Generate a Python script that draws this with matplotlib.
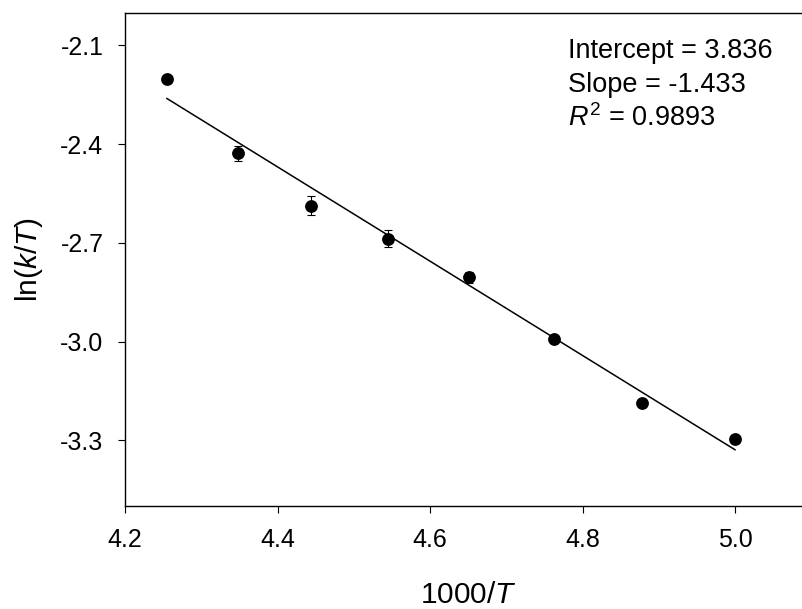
import matplotlib
matplotlib.use("Agg")
import matplotlib.pyplot as plt
import numpy as np

plt.rcParams['font.family'] = ['Liberation Sans', 'DejaVu Sans']
plt.rcParams['mathtext.fontset'] = 'custom'
plt.rcParams['mathtext.rm'] = 'Liberation Sans'
plt.rcParams['mathtext.it'] = 'Liberation Sans:italic'

# Data
inv_T = [4.255, 4.348, 4.444, 4.545, 4.651, 4.762, 4.878, 5.000]
ln_kT = [-2.203, -2.428, -2.587, -2.687, -2.805, -2.993, -3.188, -3.297]
ln_kT_err = [0.0, 0.022, 0.029, 0.025, 0.017, 0.005, 0.005, 0.012]
intercept = 3.836
slope = -1.433
r2 = 0.9893
xticks = [4.2, 4.4, 4.6, 4.8, 5.0]
yticks = [-2.1, -2.4, -2.7, -3.0, -3.3]

fig = plt.figure(figsize=(8.02, 6.09), dpi=100)
ax_left, ax_bottom_px, ax_top_px, ax_right_px = 125, 506, 12.5, 811.25
ax = fig.add_axes([ax_left/802, (609-ax_bottom_px)/609,
                   (ax_right_px-ax_left)/802, (ax_bottom_px-ax_top_px)/609])

ax.errorbar(inv_T, ln_kT, yerr=ln_kT_err, fmt='o', color='black',
            markersize=8.2, elinewidth=0.8, capsize=3.2, capthick=0.8, zorder=3)

xf = np.array([inv_T[0], inv_T[-1]])
ax.plot(xf, intercept + slope * xf, color='black', linewidth=1.1, zorder=2)

ax.set_xlim(4.2, 5.1)
ax.set_ylim(-3.5, -2.0)
ax.set_xticks(xticks)
ax.set_xticklabels([f"{v:.1f}" for v in xticks])
ax.set_yticks(yticks)
ax.set_yticklabels([f"{v:.1f}" for v in yticks])

for s in ax.spines.values():
    s.set_linewidth(1.0)
ax.tick_params(direction='out', length=5, width=0.8, labelsize=18, pad=10.5)

ax.set_xlabel(r'1000/$\mathit{T}$', fontsize=21.5)
ax.set_ylabel(r'ln($\mathit{k}$/$\mathit{T}$)', fontsize=21.5)
ax_w = ax_right_px - ax_left
ax_h = ax_bottom_px - ax_top_px
ax.xaxis.set_label_coords(0.5, (ax_bottom_px - 603) / ax_h)
ax.xaxis.label.set_va('baseline')
ax.yaxis.set_label_coords((29 - ax_left) / ax_w, 0.5)
ax.yaxis.label.set_va('center')

txt_x = 568 / 802
fs = 19.5
fig.text(txt_x, 1 - 57.7/609, f'Intercept = {intercept:.3f}', fontsize=fs, va='baseline', ha='left')
fig.text(txt_x, 1 - 92.0/609, f'Slope = {slope:.3f}', fontsize=fs, va='baseline', ha='left')
fig.text(txt_x, 1 - 126.5/609, r'$\mathit{R}^2$' + f' = {r2:.4f}', fontsize=fs, va='baseline', ha='left')

fig.savefig('out.png', dpi=100)
